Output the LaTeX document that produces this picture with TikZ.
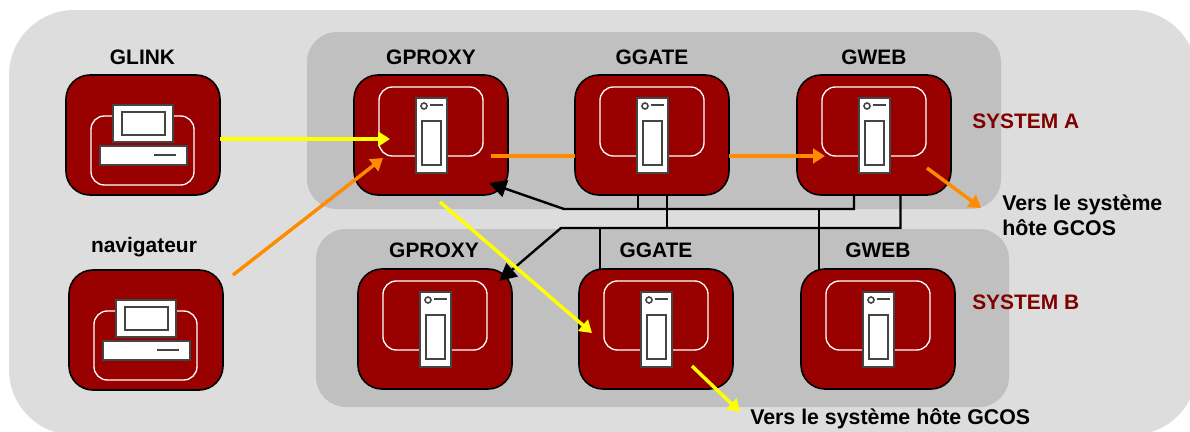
\documentclass[tikz,border=0pt]{standalone}
\usepackage{fontspec}
\setmainfont{Liberation Sans}
\usetikzlibrary{arrows.meta}
\definecolor{tilered}{HTML}{990000}
\definecolor{sysred}{HTML}{800000}
\definecolor{lightbg}{HTML}{DDDDDD}
\definecolor{midbg}{HTML}{C0C0C0}
\definecolor{oran}{HTML}{FF8C00}
\definecolor{yell}{HTML}{FFFF00}
\definecolor{edge}{HTML}{444444}
\tikzset{
  x=0.75pt,y=-0.75pt,
  panel/.style={fill=midbg,draw=none,rounded corners=22.5pt},
  tile/.style={fill=tilered,draw=black,line width=1.2pt,rounded corners=18pt},
  inner/.style={draw=white,line width=1pt,rounded corners=10pt},
  part/.style={fill=white,draw=edge,line width=1.2pt},
  lbl/.style={font=\bfseries\fontsize{15.7}{18}\selectfont,text=black,inner sep=0pt},
  sys/.style={font=\bfseries\fontsize{15.7}{18}\selectfont,text=sysred,inner sep=0pt},
  note/.style={font=\bfseries\fontsize{16}{18.75}\selectfont,text=black,inner sep=0pt,align=left},
  wire/.style={draw=black,line width=1.8pt},
  arr/.style={line width=2.6pt},
  plain/.style={line width=2.6pt},
}
\newcommand{\servertile}[3]{%
  \begin{scope}[shift={(#2,#3)}]
    \path[tile] (0,0) rectangle (154,120);
    \coordinate (#1) at (77,60);
    \path[inner] (25,12) rectangle (129,81);
    \path[part,line width=1.3pt] (62,23) rectangle (93,98);
    \path[part] (68,46) rectangle (87,90);
    \path[part] (70,31) circle (3);
    \draw[edge,line width=1.2pt] (76,30) -- (89,30);
  \end{scope}}
\newcommand{\pctile}[3]{%
  \begin{scope}[shift={(#2,#3)}]
    \path[tile] (0,0) rectangle (154,120);
    \coordinate (#1) at (77,60);
    \path[inner] (25,41) rectangle (128,110);
    \path[part,line width=1.3pt] (47,30) rectangle (107,67);
    \path[part] (56,37) rectangle (99,60);
    \path[part] (34,71) rectangle (121,90);
    \draw[edge,line width=1.2pt] (88,80) -- (110,80);
  \end{scope}}
\begin{document}
\begin{tikzpicture}
\useasboundingbox (0,0) rectangle (1190,432);
\fill[white] (0,0) rectangle (1190,432);
\begin{scope}
  \clip (0,0) rectangle (1190,432);
  \path[fill=lightbg,rounded corners=49pt] (9,10) rectangle (1197,435);
\end{scope}
\path[panel] (307,32) rectangle (1001,209);
\path[panel] (316,229) rectangle (1009,407);

\pctile{glink}{66}{75}
\pctile{nav}{69}{270}
\servertile{pa}{354}{75}
\servertile{ga}{575}{75}
\servertile{wa}{797}{75}
\servertile{pb}{358}{269}
\servertile{gb}{579}{269}
\servertile{wb}{801}{269}

\node[lbl] (tglink) at (142.5,57) {GLINK};
\node[lbl] (tnav) at (144,247) {navigateur};
\node[lbl] (tpa) at (431,57) {GPROXY};
\node[lbl] (tga) at (652,57) {GGATE};
\node[lbl] (twa) at (874,57) {GWEB};
\node[lbl] (tpb) at (434,250) {GPROXY};
\node[lbl] (tgb) at (656,250) {GGATE};
\node[lbl] (twb) at (878,250) {GWEB};
\node[sys,anchor=west] (sa) at (972,121) {SYSTEM A};
\node[sys,anchor=west] (sb) at (972,302) {SYSTEM B};
\node[note,anchor=north west] (n1) at (1002,195) {Vers le système\\hôte GCOS};
\node[note,anchor=west] (n2) at (750,419) {Vers le système hôte GCOS};

% free ends
\coordinate (y1s) at (220,139); \coordinate (y1e) at (390,139);
\coordinate (o1s) at (233,275); \coordinate (o1e) at (383,158);
\coordinate (o2s) at (491,156); \coordinate (o2e) at (575,156);
\coordinate (o3s) at (729,156); \coordinate (o3e) at (825,156);
\coordinate (o4s) at (927,168); \coordinate (o4e) at (981,208);
\coordinate (y2s) at (440,202); \coordinate (y2e) at (592,333);
\coordinate (y3s) at (692,366); \coordinate (y3e) at (740,412);
\coordinate (b1s) at (564,209); \coordinate (b1e) at (489,183);
\coordinate (b2s) at (561,228); \coordinate (b2e) at (499,281);

% black wiring
\draw[wire,-{Triangle[length=13pt,width=13pt]}] (854,195) -- (854,209) -- (b1s) -- (b1e);
\draw[wire] (638,195) -- (638,209);
\draw[wire] (819,209) -- (819,269);
\draw[wire,-{Triangle[length=13pt,width=13pt]}] (900.5,195) -- (900.5,228) -- (b2s) -- (b2e);
\draw[wire] (667,195) -- (667,228);
\draw[wire] (600,228) -- (600,269);

% coloured flows
\tikzset{ytip/.style={-{Triangle[length=9pt,width=11pt,fill=yell]}},otip/.style={-{Triangle[length=9pt,width=11pt,fill=oran]}}}
\draw[arr,draw=yell,ytip] (y1s) -- (y1e);
\draw[arr,draw=oran,otip] (o1s) -- (o1e);
\draw[plain,draw=oran] (o2s) -- (o2e);
\draw[arr,draw=oran,otip] (o3s) -- (o3e);
\draw[arr,draw=oran,otip] (o4s) -- (o4e);
\draw[arr,draw=yell,ytip] (y2s) -- (y2e);
\draw[arr,draw=yell,ytip] (y3s) -- (y3e);
\end{tikzpicture}
\end{document}
